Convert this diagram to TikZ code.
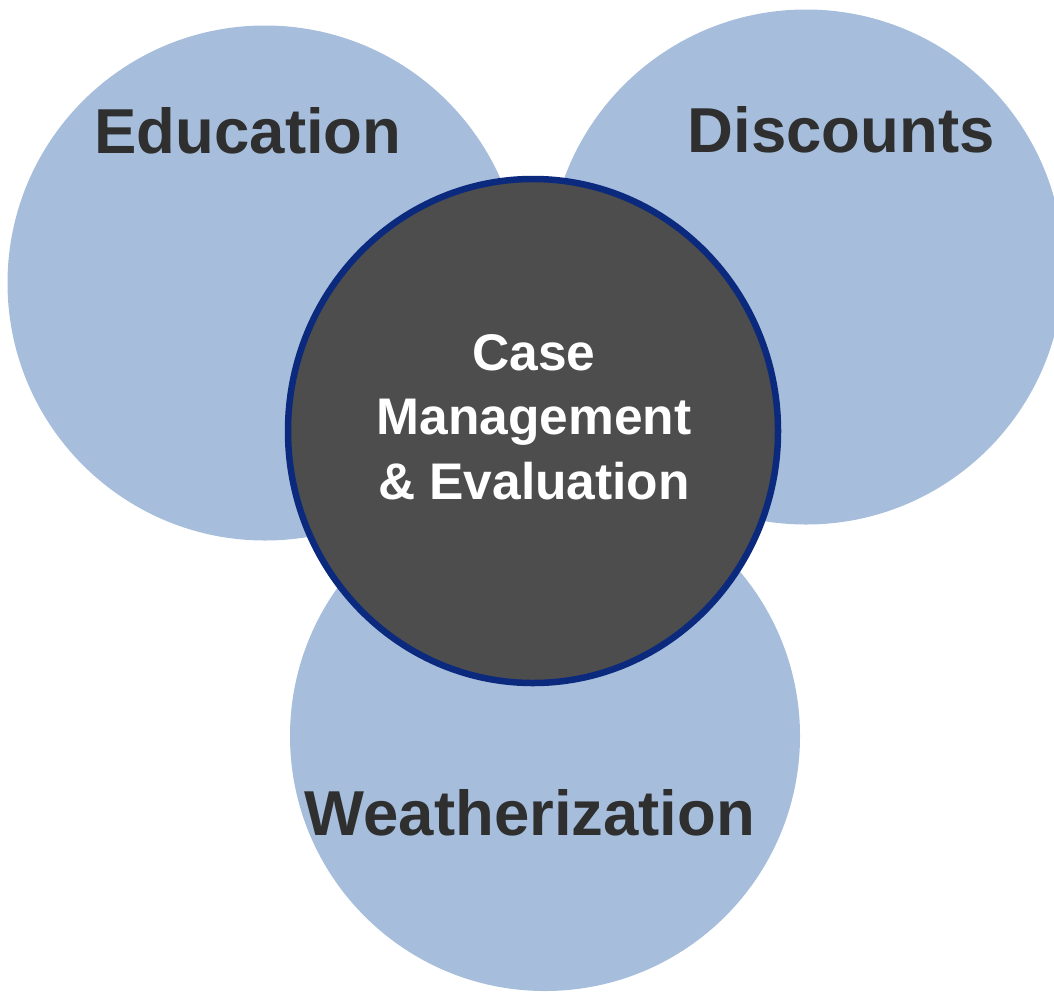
\documentclass[tikz,border=0pt]{standalone}
\usepackage{fontspec}
\setmainfont{Liberation Sans}
\usetikzlibrary{shapes.geometric, positioning}

\definecolor{azzurro}{HTML}{A6BEDC}
\definecolor{grigioscuro}{HTML}{4D4D4D}
\definecolor{blunotte}{HTML}{0B2A7E}
\definecolor{testoscuro}{HTML}{2F2F2F}

\tikzset{
  cerchio/.style={circle, fill=azzurro, inner sep=0pt, minimum size=515pt},
  centro/.style={ellipse, fill=grigioscuro, draw=blunotte, line width=6.5pt,
    inner sep=0pt, minimum width=490pt, minimum height=504pt},
  etichetta/.style={inner sep=0pt, anchor=base, text=testoscuro,
    font=\bfseries\fontsize{63.5}{70}\selectfont},
  titolo/.style={inner sep=0pt, align=center, text=white,
    font=\bfseries\fontsize{51.5}{64.5}\selectfont}
}

\begin{document}
\begin{tikzpicture}[x=1pt, y=-1pt]
  \useasboundingbox (0,0) rectangle (1054,991);

  % cerchi esterni
  \node[cerchio] (Educazione) at (265,283) {};
  \node[cerchio] (Sconti) at (806,267) {};
  \node[cerchio, minimum size=510pt] (Isolamento) at (545,736) {};

  % cerchio centrale
  \node[centro] (Gestione) at (533,431) {};

  % testi
  \node[etichetta] (EduTesto) at (248,153) {Education};
  \node[etichetta] (ScontiTesto) at (841,152) {Discounts};
  \node[etichetta] (IsolTesto) at (530,835) {Weatherization};
  \node[titolo] (GestTesto) at (534,417) {Case\\Management\\\& Evaluation};
\end{tikzpicture}
\end{document}
